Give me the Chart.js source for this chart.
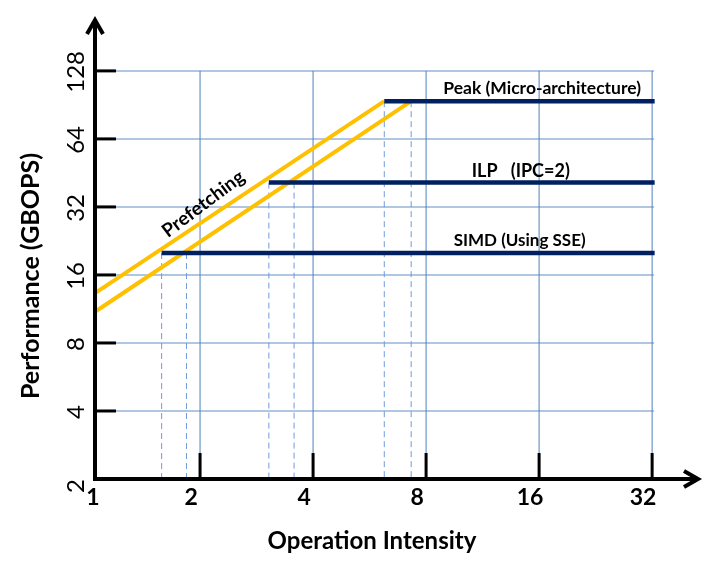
<!DOCTYPE html>
<html>
<head>
<meta charset="utf-8">
<script src="https://cdn.jsdelivr.net/npm/chart.js@4.4.0/dist/chart.umd.min.js"></script>
<style>
  body { margin: 0; background: #fff; }
</style>
</head>
<body>
<canvas id="roofline" width="717" height="573"></canvas>
<script>
const xTicks = [1, 2, 4, 8, 16, 32];
const yTicks = [2, 4, 8, 16, 32, 64, 128];

// compute ceilings (GBOPS) and where the roof meets them
const ceilingNames = ['Peak (Micro-architecture)', 'ILP   (IPC=2)', 'SIMD (Using SSE)'];
const ceilingValues = [94, 41, 20];
const ceilingStart = [6.19, 3.05, 1.58];
const ceilingEnd = 32.5;

// the two prefetching slopes: [start, end]
const slopeX = [[1.05, 6.19], [1.05, 7.3]];
const slopeY = [[13.3, 94], [11.0, 94]];

// dashed drop lines down to the x axis
const dropX = [1.58, 1.84, 3.05, 3.56, 6.19, 7.3];
const dropY = [20, 20, 41, 41, 94, 94];

const NAVY = '#002060';
const GOLD = '#FFC000';
const FONT = 'Lato, "Open Sans", sans-serif';

const datasets = [];
ceilingValues.forEach((v, i) => {
    datasets.push({
        label: ceilingNames[i],
        data: [{ x: ceilingStart[i], y: v }, { x: ceilingEnd, y: v }],
        borderColor: NAVY,
        borderWidth: 4.5
    });
});
slopeX.forEach((xs, i) => {
    datasets.push({
        label: 'Prefetching ' + (i + 1),
        data: xs.map((xv, j) => ({ x: xv, y: slopeY[i][j] })),
        borderColor: GOLD,
        borderWidth: 4
    });
});
dropX.forEach((xv, i) => {
    datasets.push({
        label: 'drop ' + i,
        data: [{ x: xv, y: dropY[i] }, { x: xv, y: 2 }],
        borderColor: '#6F9BDA',
        borderWidth: 1,
        borderDash: [6, 4]
    });
});
datasets.forEach(d => {
    d.showLine = true;
    d.pointRadius = 0;
    d.fill = false;
    d.clip = false;
});

function line(ctx, x1, y1, x2, y2) {
    ctx.beginPath();
    ctx.moveTo(x1, y1);
    ctx.lineTo(x2, y2);
    ctx.stroke();
}

const rooflineDecor = {
    id: 'rooflineDecor',
    beforeDatasetsDraw(chart) {
        const { ctx, scales: { x, y } } = chart;
        const right = x.getPixelForValue(32);
        const top = y.getPixelForValue(128);
        ctx.save();
        ctx.strokeStyle = '#4F81BD';
        ctx.lineWidth = 1;
        xTicks.slice(1).forEach(v => {
            const px = x.getPixelForValue(v);
            line(ctx, px, y.bottom, px, top);
        });
        ctx.strokeStyle = 'rgba(79,129,189,0.6)';
        ctx.lineWidth = 1.5;
        yTicks.slice(1).forEach(v => {
            const py = y.getPixelForValue(v);
            line(ctx, x.left, py, right + 2, py);
        });
        ctx.restore();
    },
    afterDatasetsDraw(chart) {
        const { ctx, scales: { x, y } } = chart;
        const ox = x.left, oy = y.bottom;
        ctx.save();
        ctx.strokeStyle = '#000';
        ctx.lineWidth = 4;
        ctx.lineCap = 'butt';
        // axes
        line(ctx, ox, oy + 2, ox, y.top + 1);
        line(ctx, ox - 2, oy, x.right - 1, oy);
        // arrow heads
        ctx.lineJoin = 'miter';
        ctx.beginPath();
        ctx.moveTo(ox - 8, y.top + 14);
        ctx.lineTo(ox, y.top);
        ctx.lineTo(ox + 8, y.top + 14);
        ctx.stroke();
        ctx.beginPath();
        ctx.moveTo(x.right - 14, oy - 8);
        ctx.lineTo(x.right, oy);
        ctx.lineTo(x.right - 14, oy + 8);
        ctx.stroke();
        // inner tick marks
        ctx.lineWidth = 3;
        xTicks.slice(1).forEach(v => {
            const px = x.getPixelForValue(v);
            line(ctx, px, oy, px, oy - 26);
        });
        yTicks.slice(1).forEach(v => {
            const py = y.getPixelForValue(v);
            line(ctx, ox, py, ox + 21, py);
        });

        // tick labels
        ctx.fillStyle = '#000';
        ctx.textAlign = 'center';
        ctx.textBaseline = 'middle';
        ctx.font = 'bold 23px ' + FONT;
        xTicks.forEach(v => {
            const px = Math.max(x.getPixelForValue(v) - 9, ox - 2);
            ctx.fillText(String(v), px, oy + 19);
        });
        ctx.font = '24px ' + FONT;
        yTicks.forEach(v => {
            const py = y.getPixelForValue(v) + (v === 2 ? 7 : 1);
            ctx.save();
            ctx.translate(ox - 19, py);
            ctx.rotate(-Math.PI / 2);
            ctx.fillText(String(v), 0, 0);
            ctx.restore();
        });

        // axis titles
        ctx.font = 'bold 24px ' + FONT;
        ctx.fillText('Operation Intensity', 372, 541);
        ctx.save();
        ctx.translate(31, 276);
        ctx.rotate(-Math.PI / 2);
        ctx.font = 'bold 25px ' + FONT;
        ctx.fillText('Performance (GBOPS)', 0, 0);
        ctx.restore();

        // ceiling labels
        const labelX = [16.3, 14.3, 14.2];
        const labelLift = [13, 11, 13];
        const labelSize = [17.5, 18, 17];
        ceilingNames.forEach((name, i) => {
            ctx.font = 'bold ' + labelSize[i] + 'px ' + FONT;
            ctx.fillText(name, x.getPixelForValue(labelX[i]), y.getPixelForValue(ceilingValues[i]) - labelLift[i]);
        });

        // slope label
        ctx.font = 'bold 19px ' + FONT;
        ctx.save();
        ctx.translate(x.getPixelForValue(2.04), y.getPixelForValue(33));
        ctx.rotate(-37 * Math.PI / 180);
        ctx.fillText('Prefetching', 0, 0);
        ctx.restore();
        ctx.restore();
    }
};

new Chart(document.getElementById('roofline'), {
    type: 'scatter',
    data: { datasets: datasets },
    options: {
        responsive: false,
        animation: false,
        devicePixelRatio: 1,
        layout: { padding: { left: 95, right: 19, top: 20, bottom: 94 } },
        plugins: { legend: { display: false }, tooltip: { enabled: false } },
        scales: {
            x: { type: 'logarithmic', min: 1.05, max: 42.4, display: false },
            y: { type: 'logarithmic', min: 2, max: 215, display: false }
        }
    },
    plugins: [rooflineDecor]
});
</script>
</body>
</html>
